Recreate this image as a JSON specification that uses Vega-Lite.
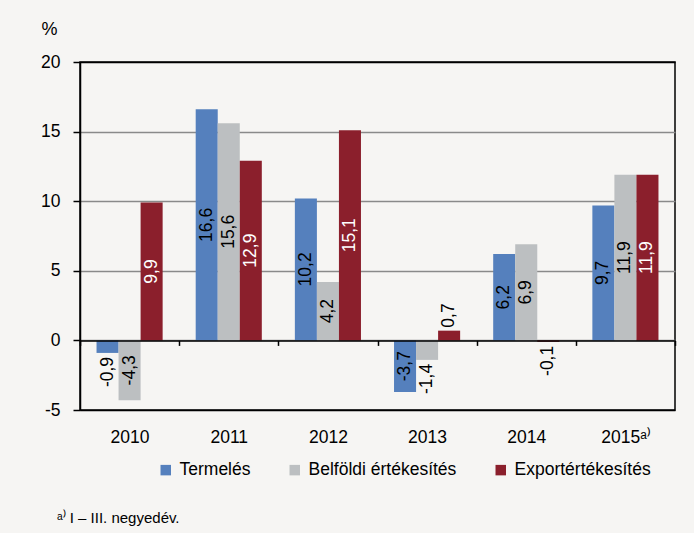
{
  "$schema": "https://vega.github.io/schema/vega-lite/v6.json",
  "width": 595,
  "height": 348,
  "autosize": {"type": "none"},
  "padding": {"left": 80, "top": 62, "right": 19, "bottom": 123},
  "background": "#f6f5f3",
  "config": {
    "font": "Liberation Sans",
    "view": {"stroke": "#000000", "strokeWidth": 1.5}
  },
  "title": {
    "text": "ᵃ⁾ I – III. negyedév.",
    "orient": "bottom",
    "anchor": "start",
    "frame": "group",
    "fontSize": 15,
    "fontWeight": "normal",
    "color": "#000000",
    "dx": -23,
    "offset": 44,
    "baseline": "alphabetic"
  },
  "data": {
    "values": [
      {"year": "2010", "series": "Termelés", "value": -0.9},
      {"year": "2010", "series": "Belföldi értékesítés", "value": -4.3},
      {"year": "2010", "series": "Exportértékesítés", "value": 9.9},
      {"year": "2011", "series": "Termelés", "value": 16.6},
      {"year": "2011", "series": "Belföldi értékesítés", "value": 15.6},
      {"year": "2011", "series": "Exportértékesítés", "value": 12.9},
      {"year": "2012", "series": "Termelés", "value": 10.2},
      {"year": "2012", "series": "Belföldi értékesítés", "value": 4.2},
      {"year": "2012", "series": "Exportértékesítés", "value": 15.1},
      {"year": "2013", "series": "Termelés", "value": -3.7},
      {"year": "2013", "series": "Belföldi értékesítés", "value": -1.4},
      {"year": "2013", "series": "Exportértékesítés", "value": 0.7},
      {"year": "2014", "series": "Termelés", "value": 6.2},
      {"year": "2014", "series": "Belföldi értékesítés", "value": 6.9},
      {"year": "2014", "series": "Exportértékesítés", "value": -0.1},
      {"year": "2015", "series": "Termelés", "value": 9.7},
      {"year": "2015", "series": "Belföldi értékesítés", "value": 11.9},
      {"year": "2015", "series": "Exportértékesítés", "value": 11.9}
    ]
  },
  "transform": [
    {"calculate": "replace(replace(format(datum.value, '.1f'), '.', ','), '−', '-')", "as": "lbl"}
  ],
  "encoding": {
    "x": {
      "field": "year",
      "type": "nominal",
      "scale": {"paddingInner": 0, "paddingOuter": 0},
      "axis": {
        "title": null,
        "orient": "bottom",
        "offset": -69.6,
        "domainColor": "#000000",
        "domainWidth": 1.5,
        "tickColor": "#000000",
        "tickWidth": 1.5,
        "tickSize": 5,
        "tickBand": "extent",
        "labelAngle": 0,
        "labelFontSize": 17.5,
        "labelColor": "#000000",
        "labelPadding": 83,
        "labelExpr": "datum.label == '2015' ? '2015ᵃ⁾' : datum.label",
        "grid": false,
        "zindex": 1
      }
    },
    "xOffset": {
      "field": "series",
      "type": "nominal",
      "sort": ["Termelés", "Belföldi értékesítés", "Exportértékesítés"],
      "scale": {"paddingInner": 0, "paddingOuter": 0.75}
    }
  },
  "layer": [
    {
      "mark": {"type": "bar"},
      "encoding": {
        "y": {
          "field": "value",
          "type": "quantitative",
          "scale": {"domain": [-5, 20], "nice": false},
          "axis": {
            "title": "%",
            "titleAngle": 0,
            "titleX": -31,
            "titleY": -33,
            "titleAlign": "center",
            "titleBaseline": "middle",
            "titleFontSize": 18,
            "titleFontWeight": "normal",
            "titleColor": "#000000",
            "values": [-5, 0, 5, 10, 15, 20],
            "labelFontSize": 17.5,
            "labelColor": "#000000",
            "labelPadding": 13,
            "labelExpr": "replace(datum.label, '−', '-')",
            "tickSize": 7,
            "tickColor": "#000000",
            "tickWidth": 1.5,
            "domainColor": "#000000",
            "domainWidth": 1.5,
            "gridWidth": 1.5,
            "gridColor": {
              "condition": {"test": "datum.value === 20 || datum.value === -5", "value": "#000000"},
              "value": "#8a8a8a"
            }
          }
        },
        "color": {
          "field": "series",
          "type": "nominal",
          "scale": {
            "domain": ["Termelés", "Belföldi értékesítés", "Exportértékesítés"],
            "range": ["#5580bd", "#bcbfc1", "#8b1f2c"]
          },
          "legend": {
            "title": null,
            "orient": "none",
            "legendX": 77,
            "legendY": 399,
            "direction": "horizontal",
            "symbolType": "square",
            "symbolSize": 110,
            "symbolStrokeWidth": 0,
            "labelFontSize": 17.5,
            "labelColor": "#000000",
            "labelOffset": 5,
            "labelLimit": 300,
            "columnPadding": 35
          }
        }
      }
    },
    {
      "transform": [
        {"filter": "abs(datum.value) >= 3"},
        {"calculate": "datum.value / 2", "as": "mid"}
      ],
      "mark": {"type": "text", "angle": 270, "align": "center", "baseline": "middle", "fontSize": 17.5},
      "encoding": {
        "y": {"field": "mid", "type": "quantitative"},
        "text": {"field": "lbl"},
        "color": {
          "condition": {"test": "datum.series === 'Exportértékesítés'", "value": "#ffffff"},
          "value": "#000000"
        }
      }
    },
    {
      "transform": [{"filter": "datum.value > 0 && datum.value < 3"}],
      "mark": {"type": "text", "angle": 270, "align": "left", "baseline": "middle", "fontSize": 17.5, "dx": 3, "color": "#000000"},
      "encoding": {
        "y": {"field": "value", "type": "quantitative"},
        "text": {"field": "lbl"}
      }
    },
    {
      "transform": [{"filter": "datum.value < 0 && datum.value > -3"}],
      "mark": {"type": "text", "angle": 270, "align": "right", "baseline": "middle", "fontSize": 17.5, "dx": -4, "color": "#000000"},
      "encoding": {
        "y": {"field": "value", "type": "quantitative"},
        "text": {"field": "lbl"}
      }
    }
  ]
}
